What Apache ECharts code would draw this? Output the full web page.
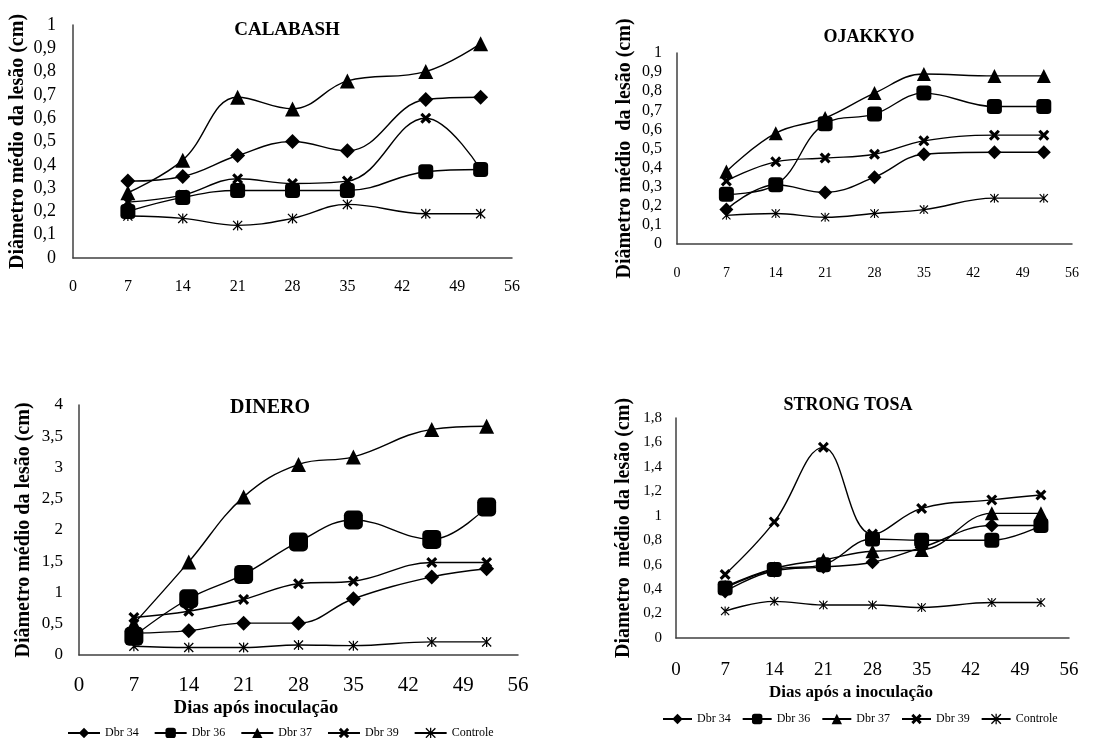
<!DOCTYPE html>
<html>
<head>
<meta charset="utf-8">
<script src="https://cdn.jsdelivr.net/npm/echarts@6/dist/echarts.min.js"></script>
<style>
html,body{margin:0;padding:0;background:#fff;}
#c{width:1101px;height:738px;}
</style>
</head>
<body>
<div id="c"></div>
<script>
// ---- data ----
const days = [7, 14, 21, 28, 35, 45, 52];
const xTicks = [0, 7, 14, 21, 28, 35, 42, 49, 56];
const seriesNames = ['Dbr 34', 'Dbr 36', 'Dbr 37', 'Dbr 39', 'Controle'];

const calabashDbr34 = [0.33, 0.35, 0.44, 0.50, 0.46, 0.68, 0.69];
const calabashDbr36 = [0.20, 0.26, 0.29, 0.29, 0.29, 0.37, 0.38];
const calabashDbr37 = [0.28, 0.42, 0.69, 0.64, 0.76, 0.80, 0.92];
const calabashDbr39 = [0.24, 0.27, 0.34, 0.32, 0.33, 0.60, 0.38];
const calabashCtrl  = [0.18, 0.17, 0.14, 0.17, 0.23, 0.19, 0.19];

const ojakkyoDbr34 = [0.18, 0.31, 0.27, 0.35, 0.47, 0.48, 0.48];
const ojakkyoDbr36 = [0.26, 0.31, 0.63, 0.68, 0.79, 0.72, 0.72];
const ojakkyoDbr37 = [0.38, 0.58, 0.66, 0.79, 0.89, 0.88, 0.88];
const ojakkyoDbr39 = [0.33, 0.43, 0.45, 0.47, 0.54, 0.57, 0.57];
const ojakkyoCtrl  = [0.15, 0.16, 0.14, 0.16, 0.18, 0.24, 0.24];

const dineroDbr34 = [0.35, 0.39, 0.51, 0.51, 0.90, 1.25, 1.38];
const dineroDbr36 = [0.30, 0.90, 1.29, 1.81, 2.16, 1.85, 2.37];
const dineroDbr37 = [0.50, 1.49, 2.53, 3.05, 3.17, 3.61, 3.66];
const dineroDbr39 = [0.60, 0.70, 0.89, 1.14, 1.18, 1.48, 1.48];
const dineroCtrl  = [0.14, 0.12, 0.12, 0.16, 0.15, 0.21, 0.21];

const tosaDbr34 = [0.38, 0.55, 0.58, 0.62, 0.74, 0.92, 0.92];
const tosaDbr36 = [0.41, 0.56, 0.60, 0.81, 0.80, 0.80, 0.92];
const tosaDbr37 = [0.42, 0.57, 0.64, 0.71, 0.72, 1.02, 1.02];
const tosaDbr39 = [0.52, 0.95, 1.56, 0.85, 1.06, 1.13, 1.17];
const tosaCtrl  = [0.22, 0.30, 0.27, 0.27, 0.25, 0.29, 0.29];

const titles = ['CALABASH', 'OJAKKYO', 'DINERO', 'STRONG TOSA'];
const yNames = ['Diâmetro médio da lesão (cm)', 'Diâmetro médio  da lesão (cm)',
                'Diâmetro médio da lesão (cm)', 'Diametro  médio da lesão (cm)'];
const xNames = ['', '', 'Dias após inoculação', 'Dias após a inoculação'];
const yMax = [1, 1, 4, 1.8];
const yStep = [0.1, 0.1, 0.5, 0.2];

const chartData = [
  [calabashDbr34, calabashDbr36, calabashDbr37, calabashDbr39, calabashCtrl],
  [ojakkyoDbr34, ojakkyoDbr36, ojakkyoDbr37, ojakkyoDbr39, ojakkyoCtrl],
  [dineroDbr34, dineroDbr36, dineroDbr37, dineroDbr39, dineroCtrl],
  [tosaDbr34, tosaDbr36, tosaDbr37, tosaDbr39, tosaCtrl]
];

// ---- styling / layout ----
const FONT = '"Liberation Serif", "Times New Roman", serif';
const symbols = [
  'path://M5,0 L10,5 L5,10 L0,5 Z',
  'roundRect',
  'triangle',
  'path://M0,2 L2,0 L5,3 L8,0 L10,2 L7,5 L10,8 L8,10 L5,7 L2,10 L0,8 L3,5 Z',
  'path://M4.4,0 L5.6,0 L5.6,10 L4.4,10 Z M0,0.9 L0.9,0 L10,9.1 L9.1,10 Z M9.1,0 L10,0.9 L0.9,10 L0,9.1 Z'
];
const symSizes = [
  [15, 15, 15, 11, 10],
  [14, 15, 14, 11, 9],
  [15, 19, 15, 11, 10],
  [14, 15, 14, 11, 9]
];
const grids = [
  {left: 73, top: 25, width: 439, height: 233},
  {left: 677, top: 53, width: 395, height: 191},
  {left: 79, top: 405, width: 439, height: 250},
  {left: 676, top: 418, width: 393, height: 220}
];
const xFont = [16, 14, 21, 19];
const yFont = [18, 16, 17, 15];
const xMargin = [21, 22, 20, 23];
const yMargin = [17, 15, 16, 14];
const yNameGap = [45, 42, 45, 42];
const titlePos = [[282, 16, 19], [864, 23, 18], [265, 393, 20], [843, 391, 18]];
const xNamePos = [null, null, [256, 708, 18.5], [851, 693, 17]];

const axisLine = {show: true, lineStyle: {color: '#404040', width: 1.5}};
const fmt = v => String(Math.round(v * 10) / 10).replace('.', ',');

const option = {
  backgroundColor: '#fff',
  animation: false,
  title: titles.map((t, i) => ({
    text: t, left: titlePos[i][0], top: titlePos[i][1], textAlign: 'center',
    textStyle: {fontFamily: FONT, fontWeight: 'bold', fontSize: titlePos[i][2], color: '#000'}
  })),
  grid: grids,
  xAxis: grids.map((g, i) => ({
    type: 'value', gridIndex: i, min: 0, max: 56, interval: 7,
    axisLine: axisLine, axisTick: {show: false}, splitLine: {show: false},
    axisLabel: {fontFamily: FONT, fontSize: xFont[i], color: '#000', margin: xMargin[i]}
  })),
  yAxis: grids.map((g, i) => ({
    type: 'value', gridIndex: i, min: 0, max: yMax[i], interval: yStep[i],
    name: yNames[i], nameLocation: 'middle', nameGap: yNameGap[i], nameRotate: 90,
    nameTextStyle: {fontFamily: FONT, fontWeight: 'bold', fontSize: 20, color: '#000'},
    axisLine: axisLine, axisTick: {show: false}, splitLine: {show: false},
    axisLabel: {fontFamily: FONT, fontSize: yFont[i], color: '#000', margin: yMargin[i], formatter: fmt}
  })),
  legend: [
    {data: seriesNames, left: 62, top: 722, itemWidth: 32, itemHeight: 13, itemGap: 15,
     textStyle: {fontFamily: FONT, fontSize: 12, color: '#000'}},
    {data: seriesNames, left: 657, top: 708, itemWidth: 29, itemHeight: 13, itemGap: 11,
     textStyle: {fontFamily: FONT, fontSize: 12, color: '#000'}}
  ],
  series: []
};

chartData.forEach((set, ci) => {
  set.forEach((vals, si) => {
    option.series.push({
      name: seriesNames[si], type: 'line', xAxisIndex: ci, yAxisIndex: ci,
      data: days.map((d, k) => [d, vals[k]]),
      smooth: 0.4,
      symbol: symbols[si], symbolSize: symSizes[ci][si],
      lineStyle: {color: '#000', width: 1.4},
      itemStyle: {color: '#000'}
    });
  });
});

option.graphic = xNamePos.map((p, i) => p ? ({
  type: 'text', x: p[0], y: p[1], silent: true,
  style: {text: xNames[i], font: 'bold ' + p[2] + 'px ' + FONT, fill: '#000',
          align: 'center', verticalAlign: 'middle'}
}) : null).filter(g => g);

const chart = echarts.init(document.getElementById('c'), null, {renderer: 'canvas'});
chart.setOption(option);
</script>
</body>
</html>
